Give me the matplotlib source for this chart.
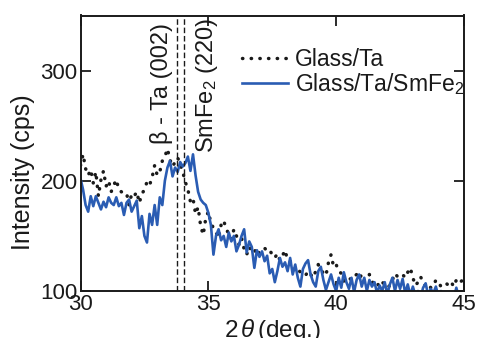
import numpy as np
import matplotlib
matplotlib.use("Agg")
import matplotlib.pyplot as plt

plt.rcParams['font.family'] = ['Liberation Sans', 'DejaVu Sans']
plt.rcParams['mathtext.fontset'] = 'custom'
plt.rcParams['mathtext.rm'] = 'Liberation Sans'
plt.rcParams['mathtext.it'] = 'Liberation Sans:italic'

two_theta = np.round(np.arange(30.0, 45.0001, 0.1), 1)

glass_ta = [
    214, 224, 211, 205, 210, 198, 208, 186, 201, 209,
    195, 200, 190, 196, 201, 192, 190, 189, 189, 178,
    188, 186, 190, 180, 188, 192, 199, 196, 203, 214,
    205, 208, 218, 222, 229, 219, 213, 217, 221, 215,
    208, 199, 192, 181, 184, 170, 176, 159, 151, 166,
    172, 162, 157, 153, 148, 160, 164, 156, 152, 147,
    156, 150, 142, 148, 138, 133, 140, 136, 138, 132,
    136, 137, 139, 136, 137, 133, 130, 134, 128, 132,
    137, 128, 127, 122, 118, 120, 117, 115, 114, 118,
    115, 112, 118, 124, 120, 116, 114, 126, 133, 122,
    124, 118, 116, 109, 112, 112, 110, 113, 115, 111,
    115, 109, 112, 115, 109, 105, 107, 104, 108, 106,
    103, 105, 110, 116, 113, 115, 115, 112, 117, 121,
    112, 105, 108, 113, 108, 104, 106, 103, 104, 110,
    108, 104, 106, 107, 105, 108, 104, 110, 107, 109,
    111,
]

glass_ta_smfe2 = [
    202, 192, 178, 172, 186, 177, 186, 180, 174, 181,
    176, 185, 180, 178, 185, 177, 180, 169, 180, 183,
    172, 177, 182, 157, 168, 150, 144, 170, 160, 178,
    160, 185, 178, 200, 212, 218, 204, 212, 208, 217,
    213, 216, 222, 209, 224, 205, 190, 183, 180, 178,
    171, 160, 133, 150, 156, 146, 150, 140, 153, 145,
    150, 136, 142, 150, 156, 135, 145, 140, 121, 137,
    131, 136, 127, 132, 116, 120, 108, 118, 130, 122,
    126, 118, 130, 115, 124, 112, 104, 120, 125, 128,
    115, 108, 104, 118, 122, 110, 101, 108, 115, 106,
    100, 112, 103, 117, 108, 102, 112, 99, 110, 115,
    104, 112, 100, 110, 104, 108, 98, 105, 100, 108,
    97, 106, 112, 100, 110, 102, 111, 98, 106, 96,
    104, 96, 100, 94, 103, 107, 96, 102, 98, 104,
    95, 100, 94, 96, 92, 96, 93, 103, 94, 92,
    93,
]

peak_lines = [33.78, 34.04]
peak_labels = ['\u03b2 - Ta (002)', r'SmFe$_2$ (220)']
peak_label_x = [33.15, 34.95]
peak_label_y = [343, 348]

x_ticks = [30, 35, 40, 45]
y_ticks = [100, 200, 300]

fig = plt.figure(figsize=(4.78, 3.38), dpi=100)
ax = fig.add_axes([80.5/478, 1 - 291/338, 383.5/478, 275.5/338])

ax.plot(two_theta, glass_ta, color='#1a1a1a', lw=2.5,
        linestyle=(0, (0.1, 2.4)), dash_capstyle='round', label='Glass/Ta')
ax.plot(two_theta, glass_ta_smfe2, color='#2a5cb3', lw=1.9,
        label=r'Glass/Ta/SmFe$_2$')

for xv in peak_lines:
    ax.axvline(xv, color='#1a1a1a', lw=1.0, linestyle=(0, (4, 2)))

for lx, ly, lab in zip(peak_label_x, peak_label_y, peak_labels):
    ax.text(lx, ly, lab, rotation=90, ha='center', va='top', fontsize=17,
            color='#1a1a1a')

ax.set_xlim(30, 45)
ax.set_ylim(100, 350)
ax.set_xticks(x_ticks)
ax.set_yticks(y_ticks)
ax.tick_params(direction='in', top=True, right=True, length=7, width=1.3,
               labelsize=16, pad=2, colors='#1a1a1a')
for s in ax.spines.values():
    s.set_linewidth(1.4)
    s.set_color('#1a1a1a')

ax.set_xlabel(r'2$\,\theta\,$(deg.)', fontsize=17.5, color='#1a1a1a')
ax.set_ylabel('Intensity (cps)', fontsize=18, color='#1a1a1a')
ax.xaxis.set_label_coords(0.5, -0.095)
ax.yaxis.set_label_coords(-0.119, 0.43)

leg = ax.legend(loc='upper left', bbox_to_anchor=(0.421, 0.883), frameon=False,
                fontsize=16.5, borderpad=0, borderaxespad=0, handlelength=2.0,
                handletextpad=0.3, labelspacing=0.0)
for t in leg.get_texts():
    t.set_color('#1a1a1a')

fig.savefig('out.png', dpi=100)
